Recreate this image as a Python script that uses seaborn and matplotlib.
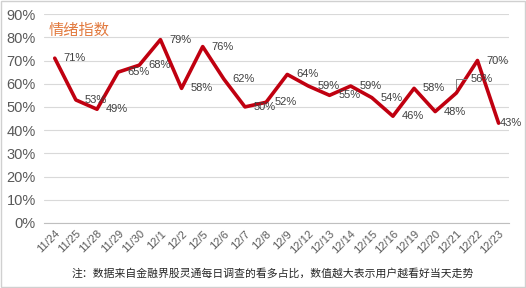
import matplotlib
matplotlib.use("Agg")
import matplotlib.pyplot as plt
import seaborn as sns
import pandas as pd
from matplotlib.patches import Rectangle

dates = ["11/24", "11/25", "11/28", "11/29", "11/30", "12/1", "12/2", "12/5", "12/6",
         "12/7", "12/8", "12/9", "12/12", "12/13", "12/14", "12/15", "12/16", "12/19",
         "12/20", "12/21", "12/22", "12/23"]
values = [71, 53, 49, 65, 68, 79, 58, 76, 62, 50, 52, 64, 59, 55, 59, 54, 46, 58, 48, 56, 70, 43]
yticks = [0, 10, 20, 30, 40, 50, 60, 70, 80, 90]
title = "情绪指数"
note = "注：数据来自金融界股灵通每日调查的看多占比，数值越大表示用户越看好当天走势"

sns.set_theme(style="white")
plt.rcParams['font.family'] = ['Liberation Sans', 'Noto Sans CJK SC', 'DejaVu Sans']

df = pd.DataFrame({"date": dates, "value": [v / 100 for v in values], "pos": range(len(dates))})

fig = plt.figure(figsize=(5.26, 2.88), dpi=100)
ax = fig.add_axes([0.084, 0.226, 0.884, 0.725])

sns.lineplot(data=df, x="pos", y="value", ax=ax, color="#C00010", linewidth=2.6, sort=False)

ax.set_xlim(-0.5, len(dates) - 0.5)
ax.set_ylim(0, 0.9)
ax.set_yticks([t / 100 for t in yticks])
ax.set_yticklabels([f"{t}%" for t in yticks], fontsize=10.5, color="#595959")
ax.set_xticks(range(len(dates)))
ax.set_xticklabels(dates, rotation=45, ha="right", va="top", fontsize=8, color="#595959",
                   rotation_mode="anchor")
ax.set_xticks([i - 0.5 for i in range(len(dates) + 1)], minor=True)
ax.tick_params(axis="x", which="major", length=0, pad=4)
ax.tick_params(axis="x", which="minor", length=4, color="#BFBFBF", width=0.8, direction="out")
ax.tick_params(axis="y", length=0, pad=6)
ax.set_xlabel("")
ax.set_ylabel("")
ax.grid(axis="y", color="#D9D9D9", linewidth=0.8)
ax.set_axisbelow(True)
for s in ["top", "right", "left"]:
    ax.spines[s].set_visible(False)
ax.spines["bottom"].set_color("#BFBFBF")
ax.spines["bottom"].set_linewidth(0.8)

last = len(values) - 1
for i, v in enumerate(values):
    if i == 19:
        ax.annotate(f"{v}%", xy=(i, v / 100), xytext=(14, 14), textcoords="offset pixels",
                    ha="left", va="center", fontsize=8, color="#404040",
                    arrowprops=dict(arrowstyle="-", color="#808080", lw=0.7,
                                    connectionstyle="angle,angleA=0,angleB=90,rad=0",
                                    relpos=(0, 0.5), shrinkA=1, shrinkB=3))
    elif i == last:
        ax.annotate(f"{v}%", xy=(i, v / 100), xytext=(1, 0), textcoords="offset pixels",
                    ha="left", va="center", fontsize=8, color="#404040")
    else:
        ax.annotate(f"{v}%", xy=(i, v / 100), xytext=(20, 0), textcoords="offset pixels",
                    ha="center", va="center", fontsize=8, color="#404040")

ax.text(0.01, 0.925, title, transform=ax.transAxes, fontsize=11, color="#E27A3F",
        ha="left", va="center", family=['Noto Sans CJK SC', 'DejaVu Sans'])

fig.text(0.518, 0.052, note, ha="center", va="center", fontsize=7.8, color="#262626",
         family=['Noto Sans CJK SC', 'DejaVu Sans'])

fig.patches.append(Rectangle((0.001, 0.002), 0.997, 0.995, transform=fig.transFigure,
                             fill=False, edgecolor="#D0D0D0", linewidth=1))

fig.savefig("out.png", dpi=100)
